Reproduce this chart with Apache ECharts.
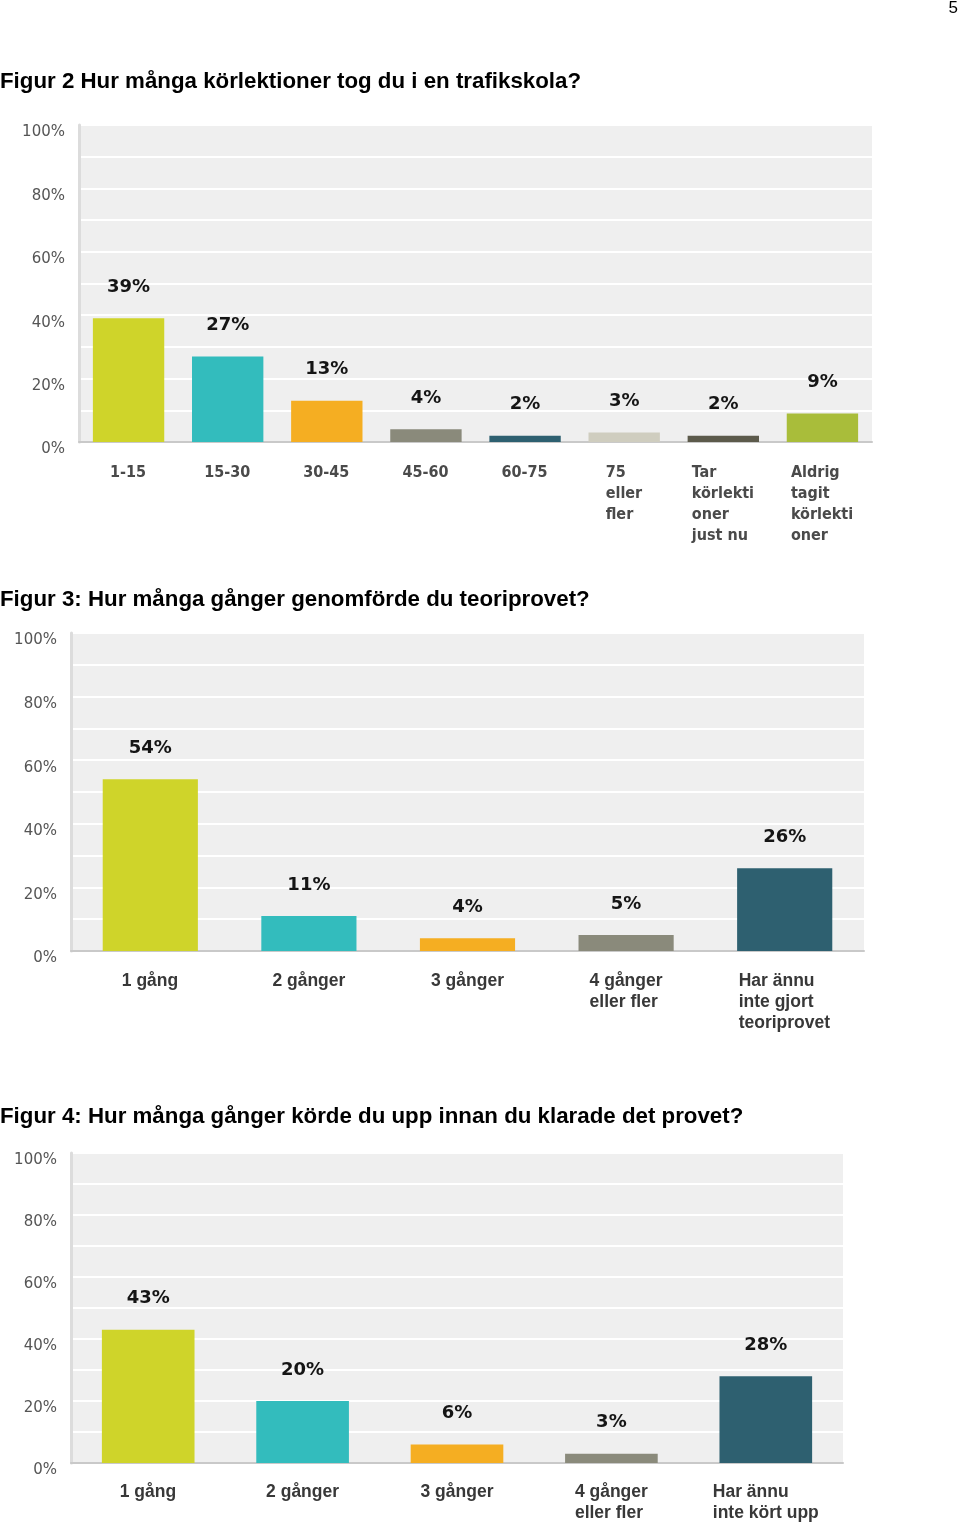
<!DOCTYPE html>
<html><head><meta charset="utf-8">
<script src="https://cdn.jsdelivr.net/npm/echarts@6/dist/echarts.min.js"></script>
<style>html,body{margin:0;padding:0;background:#fff}#c{width:960px;height:1525px}</style>
</head><body><div id="c"></div>
<script>
// ---- data ----
const title1 = 'Figur 2 Hur många körlektioner tog du i en trafikskola?';
const title2 = 'Figur 3: Hur många gånger genomförde du teoriprovet?';
const title3 = 'Figur 4: Hur många gånger körde du upp innan du klarade det provet?';
const pageNumber = '5';
const cats1 = ['1-15', '15-30', '30-45', '45-60', '60-75', '75\neller\nfler', 'Tar\nkörlekti\noner\njust nu', 'Aldrig\ntagit\nkörlekti\noner'];
const vals1 = [39, 27, 13, 4, 2, 3, 2, 9];
const cats2 = ['1 gång', '2 gånger', '3 gånger', '4 gånger\neller fler', 'Har ännu\ninte gjort\nteoriprovet'];
const vals2 = [54, 11, 4, 5, 26];
const cats3 = ['1 gång', '2 gånger', '3 gånger', '4 gånger\neller fler', 'Har ännu\ninte kört upp'];
const vals3 = [43, 20, 6, 3, 28];
const yMin = 0, yMax = 100, yStep = 10, yLabelStep = 20;

// ---- styles ----
const palette = ['#cfd42a', '#33bcbd', '#f5ae22', '#8a8a7b', '#2e6070', '#cfcdbf', '#5c5a4b', '#a9bd3a'];
const fontNarrow = '"Liberation Sans Narrow", "Arial Narrow", "DejaVu Sans Condensed", sans-serif';
const fontArial = '"Liberation Sans", Arial, sans-serif';
const fontVerdana = '"DejaVu Sans", Verdana, sans-serif';

const ctx = document.createElement('canvas').getContext('2d');
function measure(t, font) { ctx.font = font; return ctx.measureText(t).width; }

function makeX(gi, cats, family, size, margin, color) {
  const rich = {};
  cats.forEach((c, i) => {
    const lines = c.split('\n');
    const w = Math.ceil(Math.max(...lines.map(l => measure(l, `bold ${size}px ${family}`))));
    rich['c' + i] = { width: w, align: 'left', fontFamily: family, fontSize: size, fontWeight: 'bold', color: color, lineHeight: 21 };
  });
  return {
    type: 'category', gridIndex: gi, data: cats,
    axisTick: { show: false },
    axisLine: { show: true, lineStyle: { color: '#c9c9c9', width: 2 } },
    axisLabel: {
      interval: 0, margin: margin, align: 'center', verticalAlign: 'top',
      formatter: (v, i) => v.split('\n').map(l => `{c${i}|${l}}`).join('\n'),
      rich: rich
    }
  };
}
function makeY(gi) {
  return {
    type: 'value', gridIndex: gi, min: yMin, max: yMax, interval: yStep,
    axisLine: { show: true, lineStyle: { color: '#dcdcdc', width: 3 } },
    axisTick: { show: false },
    splitLine: { show: true, lineStyle: { color: '#ffffff', width: 2 } },
    axisLabel: {
      margin: 14, fontFamily: fontVerdana, fontSize: 15, color: '#555',
      verticalAlign: 'top',
      formatter: v => (v % yLabelStep === 0 ? v + '%' : '')
    }
  };
}
function makeSeries(gi, vals, bw) {
  return {
    type: 'bar', xAxisIndex: gi, yAxisIndex: gi, barWidth: bw,
    data: vals.map((v, i) => ({ value: v, itemStyle: { color: palette[i] } })),
    label: { show: true, position: 'top', distance: 22, formatter: '{c}%', fontFamily: fontVerdana, fontSize: 18, fontWeight: 'bold', color: '#151515' },
    silent: true
  };
}
const gridBase = { show: true, backgroundColor: '#efefef', borderWidth: 0 };
const titleStyle = { fontFamily: fontArial, fontSize: 22.3, fontWeight: 'bold', color: '#000' };

const option = {
  animation: false,
  title: [
    { text: title1, left: 0, top: 71, padding: 0, textStyle: titleStyle },
    { text: title2, left: 0, top: 589, padding: 0, textStyle: titleStyle },
    { text: title3, left: 0, top: 1106, padding: 0, textStyle: titleStyle },
    { text: pageNumber, right: 2, top: 0, padding: 0, textStyle: { fontFamily: fontArial, fontSize: 17, fontWeight: 'normal', color: '#000' } }
  ],
  grid: [
    Object.assign({ left: 79, top: 125, width: 793, height: 317 }, gridBase),
    Object.assign({ left: 71, top: 633, width: 793, height: 318 }, gridBase),
    Object.assign({ left: 71, top: 1153, width: 772, height: 310 }, gridBase)
  ],
  xAxis: [
    makeX(0, cats1, fontNarrow, 16, 20, '#4a4a4a'),
    makeX(1, cats2, fontArial, 17.5, 19.5, '#383838'),
    makeX(2, cats3, fontArial, 17.5, 18.5, '#383838')
  ],
  yAxis: [makeY(0), makeY(1), makeY(2)],
  series: [makeSeries(0, vals1, '72%'), makeSeries(1, vals2, '60%'), makeSeries(2, vals3, '60%')]
};
const chart = echarts.init(document.getElementById('c'), null, { renderer: 'canvas' });
chart.setOption(option);
</script>
</body></html>
